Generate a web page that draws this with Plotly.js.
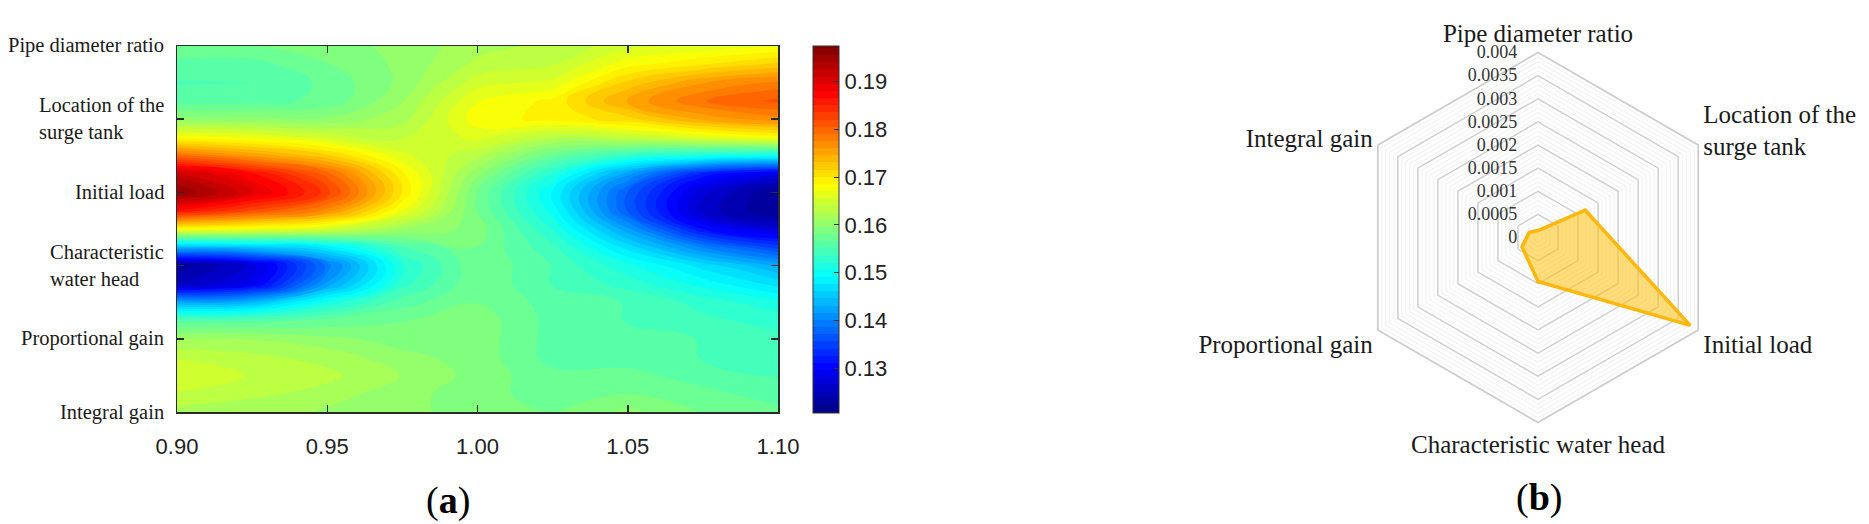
<!DOCTYPE html>
<html>
<head>
<meta charset="utf-8">
<script src="https://cdn.plot.ly/plotly-3.0.1.min.js"></script>
<style>html,body{margin:0;padding:0;background:#fff;}#chart{width:1869px;height:524px;}</style>
</head>
<body>
<div id="chart"></div>
<script>
// ---------- Panel (a): sensitivity map ----------
const heatX = [0.90, 0.925, 0.95, 0.975, 1.00, 1.025, 1.05, 1.075, 1.10];
const heatY = [0, 0.25, 0.5, 0.75, 1, 1.25, 1.5, 1.75, 2, 2.25, 2.5, 2.75, 3, 3.25, 3.5, 3.75, 4, 4.25, 4.5, 4.75, 5];
const heatZ = [
  [0.162, 0.1615, 0.161, 0.160, 0.159, 0.158, 0.160, 0.158, 0.157],
  [0.164, 0.163, 0.162, 0.160, 0.159, 0.157, 0.158, 0.157, 0.156],
  [0.165, 0.164, 0.163, 0.161, 0.159, 0.157, 0.157, 0.156, 0.155],
  [0.164, 0.163, 0.162, 0.160, 0.159, 0.156, 0.156, 0.155, 0.155],
  [0.161, 0.161, 0.160, 0.159, 0.159, 0.156, 0.156, 0.155, 0.154],
  [0.156, 0.156, 0.157, 0.158, 0.159, 0.156, 0.155, 0.154, 0.153],
  [0.143, 0.144, 0.151, 0.156, 0.158, 0.156, 0.155, 0.153, 0.151],
  [0.125, 0.129, 0.142, 0.153, 0.158, 0.155, 0.153, 0.150, 0.147],
  [0.1226, 0.127, 0.139, 0.152, 0.158, 0.155, 0.151, 0.147, 0.143],
  [0.144, 0.145, 0.148, 0.155, 0.158, 0.154, 0.147, 0.140, 0.135],
  [0.168, 0.167, 0.165, 0.161, 0.159, 0.152, 0.142, 0.131, 0.127],
  [0.1865, 0.182, 0.177, 0.167, 0.158, 0.150, 0.137, 0.126, 0.122],
  [0.1957, 0.190, 0.183, 0.170, 0.158, 0.149, 0.137, 0.127, 0.122],
  [0.192, 0.187, 0.180, 0.169, 0.160, 0.152, 0.142, 0.132, 0.128],
  [0.1797, 0.176, 0.172, 0.166, 0.163, 0.157, 0.153, 0.151, 0.150],
  [0.168, 0.167, 0.165, 0.164, 0.166, 0.163, 0.164, 0.166, 0.168],
  [0.160, 0.160, 0.160, 0.162, 0.168, 0.169, 0.171, 0.175, 0.177],
  [0.156, 0.156, 0.157, 0.161, 0.167, 0.169, 0.175, 0.179, 0.181],
  [0.155, 0.155, 0.157, 0.160, 0.165, 0.166, 0.172, 0.176, 0.178],
  [0.156, 0.156, 0.158, 0.160, 0.163, 0.164, 0.168, 0.170, 0.172],
  [0.158, 0.158, 0.159, 0.160, 0.162, 0.163, 0.165, 0.166, 0.167]
];
const heatYTickVals = [0, 1, 2, 3, 4, 5];
const heatYLabels = ['Integral gain', 'Proportional gain', 'Characteristic<br>water head', 'Initial load', 'Location of the<br>surge tank', 'Pipe diameter ratio'];
const heatXTickVals = [0.90, 0.95, 1.00, 1.05, 1.10];
const heatXTickText = ['0.90', '0.95', '1.00', '1.05', '1.10'];
const cbTickVals = [0.13, 0.14, 0.15, 0.16, 0.17, 0.18, 0.19];
const cbTickText = ['0.13', '0.14', '0.15', '0.16', '0.17', '0.18', '0.19'];
const zRange = [0.1206, 0.1975];

// ---------- Panel (b): radar ----------
const radarCategories = ['Pipe diameter ratio', 'Location of the<br>surge tank', 'Initial load', 'Characteristic water head', 'Proportional gain', 'Integral gain'];
const radarValues = [0.00015, 0.00118, 0.0038, 0.00095, 0.0004, 0.00022];
const radialTickVals = [0, 0.0005, 0.001, 0.0015, 0.002, 0.0025, 0.003, 0.0035, 0.004];
const radialTickText = ['0', '0.0005', '0.001', '0.0015', '0.002', '0.0025', '0.003', '0.0035', '0.004'];
const radialRange = [0, 0.004];

const W = 1869, H = 524;
const jet = [[0, '#000080'], [0.125, '#0000ff'], [0.375, '#00ffff'], [0.625, '#ffff00'], [0.875, '#ff0000'], [1, '#800000']];
const serif = 'Liberation Serif, Times New Roman, serif';
const sans = 'Liberation Sans, Arial, sans-serif';

const contourTrace = {
  type: 'contour', x: heatX, y: heatY, z: heatZ,
  xaxis: 'x', yaxis: 'y',
  colorscale: jet, zauto: false, zmin: zRange[0], zmax: zRange[1],
  autocontour: false,
  contours: { start: zRange[0], end: zRange[1], size: 0.0015, coloring: 'fill', showlines: false },
  line: { width: 0, smoothing: 1.3 },
  hoverinfo: 'skip',
  colorbar: {
    x: 813 / W, xanchor: 'left', xpad: 0, xref: 'paper',
    y: (H - 229.5) / H, yanchor: 'middle', ypad: 0, yref: 'paper',
    len: 367 / H, lenmode: 'fraction',
    thickness: 26, thicknessmode: 'pixels',
    outlinewidth: 1, outlinecolor: '#333',
    ticks: 'inside', ticklen: 5, tickcolor: '#333',
    tickvals: cbTickVals, ticktext: cbTickText,
    tickfont: { family: sans, size: 22, color: '#222' }
  }
};

const minorTrace = {
  type: 'scatterpolar', subplot: 'polar',
  r: radarValues, theta: radarCategories, mode: 'none', hoverinfo: 'skip'
};

const radarTrace = {
  type: 'scatterpolar', subplot: 'polar2',
  r: radarValues.concat([radarValues[0]]),
  theta: radarCategories.concat([radarCategories[0]]),
  mode: 'lines', fill: 'toself',
  fillcolor: 'rgba(255,190,0,0.52)',
  line: { color: '#FDB80F', width: 3.5 },
  hoverinfo: 'skip'
};

const yLabelAnnotations = heatYLabels.map((t, i) => ({
  xref: 'paper', yref: 'y', x: 166 / W, y: heatYTickVals[i],
  xanchor: 'right', yanchor: 'middle', align: 'left',
  text: t, showarrow: false,
  font: { family: serif, size: 20.5, color: '#1a1a1a' }
}));

const polarDomain = { x: [(1538 - 185) / W, (1538 + 185) / W], y: [(286.5 - 185) / H, (286.5 + 185) / H] };

const layout = {
  width: W, height: H,
  margin: { l: 0, r: 0, t: 0, b: 0 },
  paper_bgcolor: '#fff', plot_bgcolor: '#fff',
  showlegend: false,
  xaxis: {
    domain: [177 / W, 778 / W], range: [0.9, 1.1],
    tickvals: heatXTickVals, ticktext: heatXTickText,
    ticks: 'inside', ticklen: 7, tickwidth: 1.5, tickcolor: '#2b2b2b',
    ticklabelstandoff: 14,
    showline: true, linecolor: '#2b2b2b', linewidth: 1.5, mirror: 'ticks',
    showgrid: false, zeroline: false,
    tickfont: { family: sans, size: 22, color: '#222' }
  },
  yaxis: {
    domain: [(H - 412) / H, (H - 46) / H], range: [0, 5],
    tickvals: heatYTickVals, ticktext: heatYTickVals.map(() => ''),
    ticks: 'inside', ticklen: 7, tickwidth: 1.5, tickcolor: '#2b2b2b',
    showline: true, linecolor: '#2b2b2b', linewidth: 1.5, mirror: 'ticks',
    showgrid: false, zeroline: false
  },
  polar: {
    domain: polarDomain, gridshape: 'linear', bgcolor: '#fff',
    radialaxis: { range: radialRange, dtick: 0.0001, tick0: 0, showticklabels: false, ticks: '', showline: false, gridcolor: '#efefef', gridwidth: 1 },
    angularaxis: { type: 'category', categoryarray: radarCategories, direction: 'clockwise', rotation: 90, showline: false, showgrid: false, showticklabels: false, ticks: '' }
  },
  polar2: {
    domain: polarDomain, gridshape: 'linear', bgcolor: 'rgba(0,0,0,0)',
    radialaxis: {
      range: radialRange, tickvals: radialTickVals, ticktext: radialTickText,
      angle: 90, side: 'counterclockwise', tickangle: 90,
      showline: false, ticks: 'outside', ticklen: 14, tickcolor: 'rgba(0,0,0,0)',
      gridcolor: '#d0d0d0', gridwidth: 1.5,
      tickfont: { family: serif, size: 18, color: '#333' }
    },
    angularaxis: {
      type: 'category', categoryarray: radarCategories, direction: 'clockwise', rotation: 90,
      showline: true, linecolor: '#cccccc', linewidth: 1.8, showgrid: false, ticks: '',
      tickfont: { family: serif, size: 25, color: '#1a1a1a' }
    }
  },
  annotations: yLabelAnnotations.concat([
    { xref: 'paper', yref: 'paper', x: 448 / W, y: (H - 500) / H, xanchor: 'center', yanchor: 'middle',
      text: '(<b>a</b>)', showarrow: false, font: { family: serif, size: 38, color: '#000' } },
    { xref: 'paper', yref: 'paper', x: 1539 / W, y: (H - 497) / H, xanchor: 'center', yanchor: 'middle',
      text: '(<b>b</b>)', showarrow: false, font: { family: serif, size: 38, color: '#000' } }
  ])
};

Plotly.newPlot('chart', [contourTrace, minorTrace, radarTrace], layout, { staticPlot: true, displayModeBar: false });
</script>
</body>
</html>
